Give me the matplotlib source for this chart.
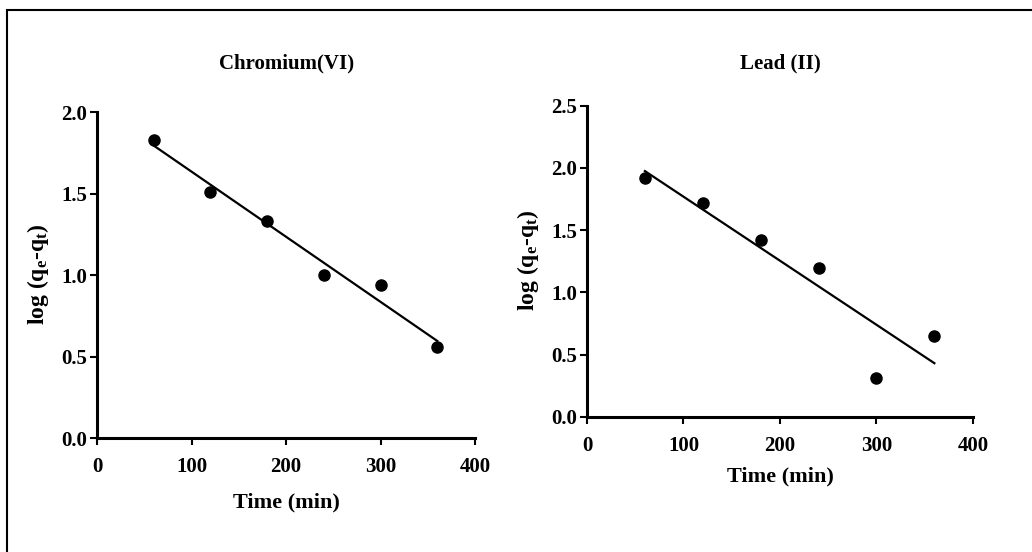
import numpy as np
import matplotlib.pyplot as plt
from matplotlib.patches import Rectangle

plt.rcParams['font.family'] = 'Liberation Serif'
plt.rcParams['font.weight'] = 'bold'
plt.rcParams['mathtext.fontset'] = 'custom'
plt.rcParams['mathtext.rm'] = 'Liberation Serif:bold'
plt.rcParams['mathtext.it'] = 'Liberation Serif:bold'

time_min = [60, 120, 180, 240, 300, 360]
chromium = [1.83, 1.51, 1.33, 1.00, 0.94, 0.56]
lead = [1.92, 1.72, 1.42, 1.20, 0.31, 0.65]

# title, data, y ticks, axes rect, title x (fig fraction)
panels = [
    ("Chromium(VI)", chromium, [0.0, 0.5, 1.0, 1.5, 2.0], [0.094, 0.2065, 0.3663, 0.5905], 287 / 1032),
    ("Lead (II)", lead, [0.0, 0.5, 1.0, 1.5, 2.0, 2.5], [0.5688, 0.2446, 0.374, 0.564], 780 / 1032),
]

fig = plt.figure(figsize=(10.32, 5.52), dpi=100)
fig.patches.append(Rectangle((7 / 1032, -0.1), 1.2, (552 - 10) / 552 + 0.1,
                             transform=fig.transFigure, fill=False,
                             edgecolor='black', linewidth=1.5))

for title, vals, yticks, pos, tx in panels:
    ax = fig.add_axes(pos)
    ax.plot(time_min, vals, 'o', color='black', markersize=8)
    slope, icpt = np.polyfit(time_min, vals, 1)
    xs = np.array([time_min[0], time_min[-1]])
    ax.plot(xs, slope * xs + icpt, color='black', linewidth=1.6)
    ax.set_xlim(0, 400)
    ax.set_ylim(0, yticks[-1])
    ax.set_xticks([0, 100, 200, 300, 400])
    ax.set_yticks(yticks)
    ax.set_yticklabels(["%.1f" % v for v in yticks])
    for s in ['top', 'right']:
        ax.spines[s].set_visible(False)
    for s in ['left', 'bottom']:
        ax.spines[s].set_linewidth(2.2)
    ax.tick_params(width=1.5, length=5, labelsize=15, color='black')
    ax.tick_params(axis='x', pad=9)
    ax.tick_params(axis='y', pad=2)
    fig.text(tx, (552 - 63) / 552, title, fontsize=15, fontweight='bold',
             ha='center', va='center')
    ax.set_xlabel("Time (min)", fontsize=16, fontweight='bold', va='center')
    ax.set_ylabel(r"log (q$_e$-q$_t$)", fontsize=17, fontweight='bold', va='center')
    w_px = pos[2] * 1032
    h_px = pos[3] * 552
    ax.xaxis.set_label_coords(0.5, -64 / h_px if title.startswith("C") else -60 / h_px)
    ax.yaxis.set_label_coords(-59 / w_px, 0.503)

fig.savefig("out.png", dpi=100)
